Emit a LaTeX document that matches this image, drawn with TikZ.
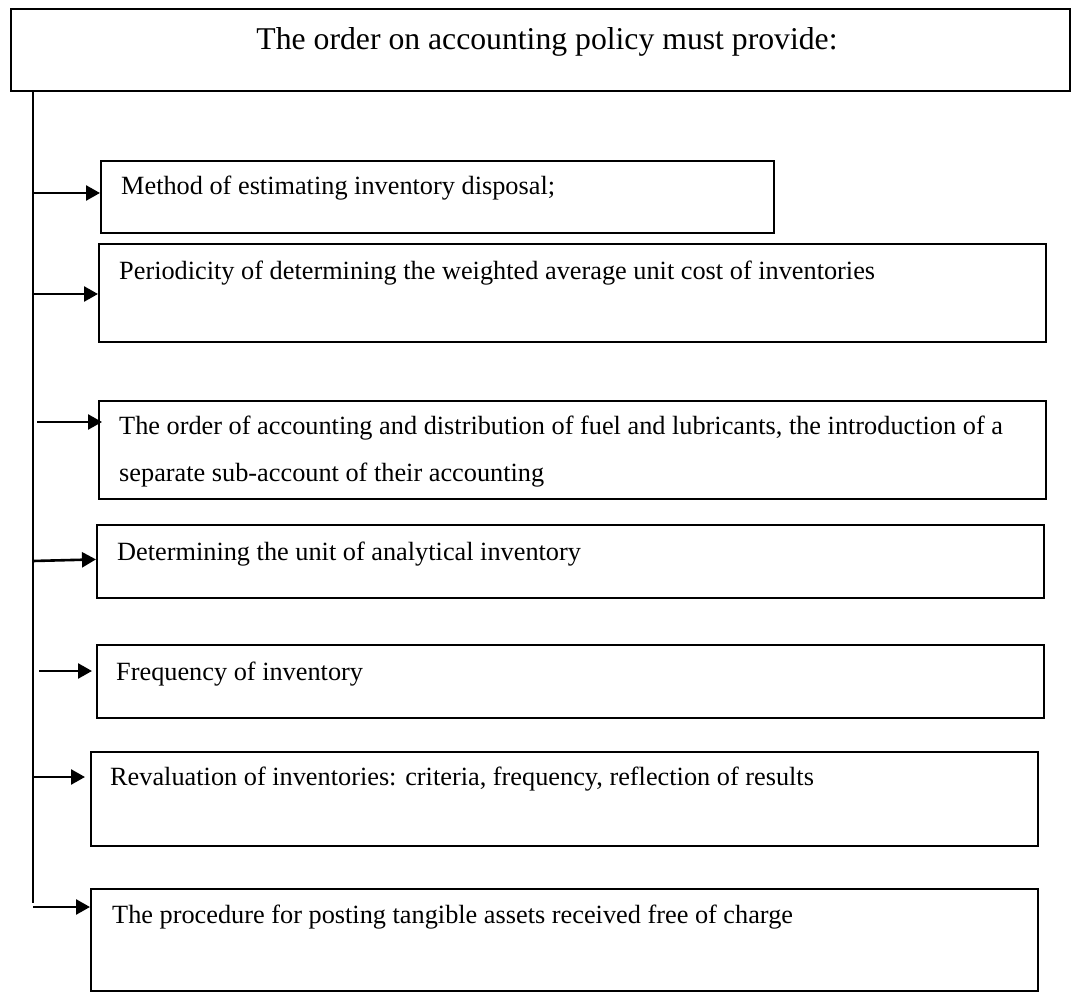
\documentclass[tikz,border=0pt]{standalone}
\usepackage{fontspec}
\setmainfont{Liberation Serif}
\usetikzlibrary{arrows.meta}

\tikzset{
	box/.style={draw, line width=1.8pt, rectangle, anchor=north west, inner sep=0pt},
	itemtext/.style={anchor=base west, inner sep=0pt, font=\fontsize{26.3}{30}\selectfont},
	conn/.style={line width=2.6pt, -{Triangle[length=14pt,width=15pt]}},
	trunk/.style={line width=1.8pt}
}

\begin{document}
\begin{tikzpicture}[x=1pt, y=-1pt]
	\useasboundingbox (0,0) rectangle (1072,992);

	\node[box, minimum width=1059pt, minimum height=82pt] (head) at (10,8) {};
	\node[anchor=base, inner sep=0pt, font=\fontsize{31.7}{36}\selectfont] (headtext) at (547,50) {The order on accounting policy must provide:};

	\node[box, minimum width=673pt, minimum height=72pt] (b1) at (100,160) {};
	\node[itemtext] (t1) at (121,195) {Method of estimating inventory disposal;};

	\node[box, minimum width=947pt, minimum height=98pt] (b2) at (98,243) {};
	\node[itemtext] (t2) at (119,280) {Periodicity of determining the weighted average unit cost of inventories};

	\node[box, minimum width=947pt, minimum height=98pt] (b3) at (98,400) {};
	\node[itemtext] (t3a) at (119,435) {The order of accounting and distribution of fuel and lubricants, the introduction of a};
	\node[itemtext] (t3b) at (119,482) {separate sub-account of their accounting};

	\node[box, minimum width=947pt, minimum height=73pt] (b4) at (96,524) {};
	\node[itemtext] (t4) at (117,560) {Determining the unit of analytical inventory};

	\node[box, minimum width=947pt, minimum height=73pt] (b5) at (96,644) {};
	\node[itemtext] (t5) at (116,680) {Frequency of inventory};

	\node[box, minimum width=947pt, minimum height=94pt] (b6) at (90,751) {};
	\node[itemtext] (t6) at (110,785) {Revaluation of inventories: criteria, frequency, reflection of results};

	\node[box, minimum width=947pt, minimum height=102pt] (b7) at (90,888) {};
	\node[itemtext] (t7) at (112,923) {The procedure for posting tangible assets received free of charge};

	\coordinate (trunkend) at (33,903);
	\draw[trunk] (head.south -| trunkend) -- (trunkend);

	\coordinate (s1) at (33,193);
	\coordinate (s2) at (33,294);
	\coordinate (s3) at (37,422);
	\coordinate (s4) at (33,561);
	\coordinate (s5) at (39,671);
	\coordinate (s6) at (33,777);
	\coordinate (s7) at (33,907);

	\draw[conn] (s1) -- (s1 -| b1.west);
	\draw[conn] (s2) -- (s2 -| b2.west);
	\draw[conn] (s3) -- ([xshift=4pt]s3 -| b3.west);
	\draw[conn] (s4) -- ([yshift=2pt]b4.west);
	\draw[conn, shorten >=4pt] (s5) -- (s5 -| b5.west);
	\draw[conn, shorten >=5pt] (s6) -- (s6 -| b6.west);
	\draw[conn] (s7) -- (s7 -| b7.west);
\end{tikzpicture}
\end{document}
